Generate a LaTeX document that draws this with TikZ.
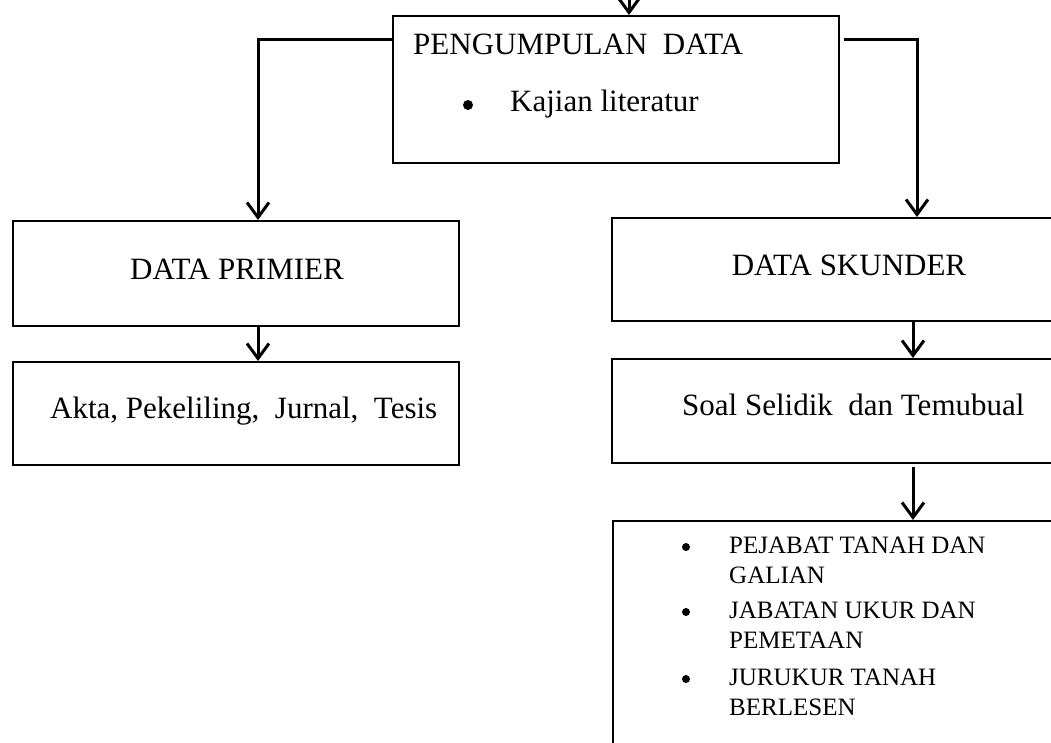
\documentclass[tikz,border=0pt]{standalone}
\usepackage{fontspec}
\setmainfont{Liberation Serif}
\usetikzlibrary{arrows.meta,calc}
\begin{document}
\begin{tikzpicture}[x=1pt,y=-1pt,
  box/.style={draw,line width=2pt,rectangle,inner sep=0pt,anchor=north west},
  link/.style={line width=3pt,-{Straight Barb[length=15pt,width=22pt,line width=3pt]}},
  big/.style={font=\fontsize{31}{37}\selectfont,inner sep=0pt,anchor=base west},
  small/.style={font=\fontsize{25}{30}\selectfont,inner sep=0pt,anchor=base west},
  bigdot/.style={circle,fill,inner sep=0pt,minimum size=10pt},
  smalldot/.style={circle,fill,inner sep=0pt,minimum size=8pt}]
\useasboundingbox (0,0) rectangle (1051,743);
\clip (0,0) rectangle (1051,743);

% boxes
\node[box,minimum width=446pt,minimum height=147pt] (pd) at (392,15) {};
\node[box,minimum width=446pt,minimum height=105pt] (pr) at (12,220) {};
\node[box,minimum width=446pt,minimum height=103pt] (ak) at (12,361) {};
\node[box,minimum width=460pt,minimum height=103pt] (sk) at (611,217) {};
\node[box,minimum width=460pt,minimum height=104pt] (ss) at (611,358) {};
\node[box,minimum width=460pt,minimum height=260pt] (ls) at (612,520) {};

% texts
\node[big] (tpd) at (413,55) {PENGUMPULAN\ \ DATA};
\node[bigdot] (bpd) at (468,105) {};
\node[big] (tkl) at (510,112) {Kajian literatur};
\node[big,anchor=base] (tpr) at (237,279) {DATA PRIMIER};
\node[big] (tak) at (50,418) {Akta, Pekeliling,\ \ Jurnal,\ \ Tesis};
\node[big,anchor=base] (tsk) at (849,275) {DATA SKUNDER};
\node[big] (tss) at (682,415) {Soal Selidik\ \ dan Temubual};

\node[smalldot] (b1) at (686,547) {};
\node[small] (l1a) at (729,553) {PEJABAT TANAH DAN};
\node[small] (l1b) at (729,583) {GALIAN};
\node[smalldot] (b2) at (686,612) {};
\node[small] (l2a) at (729,618) {JABATAN UKUR DAN};
\node[small] (l2b) at (729,648) {PEMETAAN};
\node[smalldot] (b3) at (686,679) {};
\node[small] (l3a) at (729,685) {JURUKUR TANAH};
\node[small] (l3b) at (729,715) {BERLESEN};

% connector guides
\coordinate (in) at (629,0);
\coordinate (lk) at (258,40);
\coordinate (rk) at (917,40);
\coordinate (rd) at (913,0);

% connectors
\draw[link] (in) -- (in |- pd.north);
\draw[link] (pd.west |- lk) -| (lk |- pr.north);
\draw[link] ([xshift=4pt]pd.east |- rk) -| (rk |- sk.north);
\draw[link] (pr.south -| lk) -- (ak.north -| lk);
\draw[link] (sk.south -| rd) -- (ss.north -| rd);
\draw[link] ([yshift=-3pt]ss.south -| rd) -- (ls.north -| rd);
\end{tikzpicture}
\end{document}
